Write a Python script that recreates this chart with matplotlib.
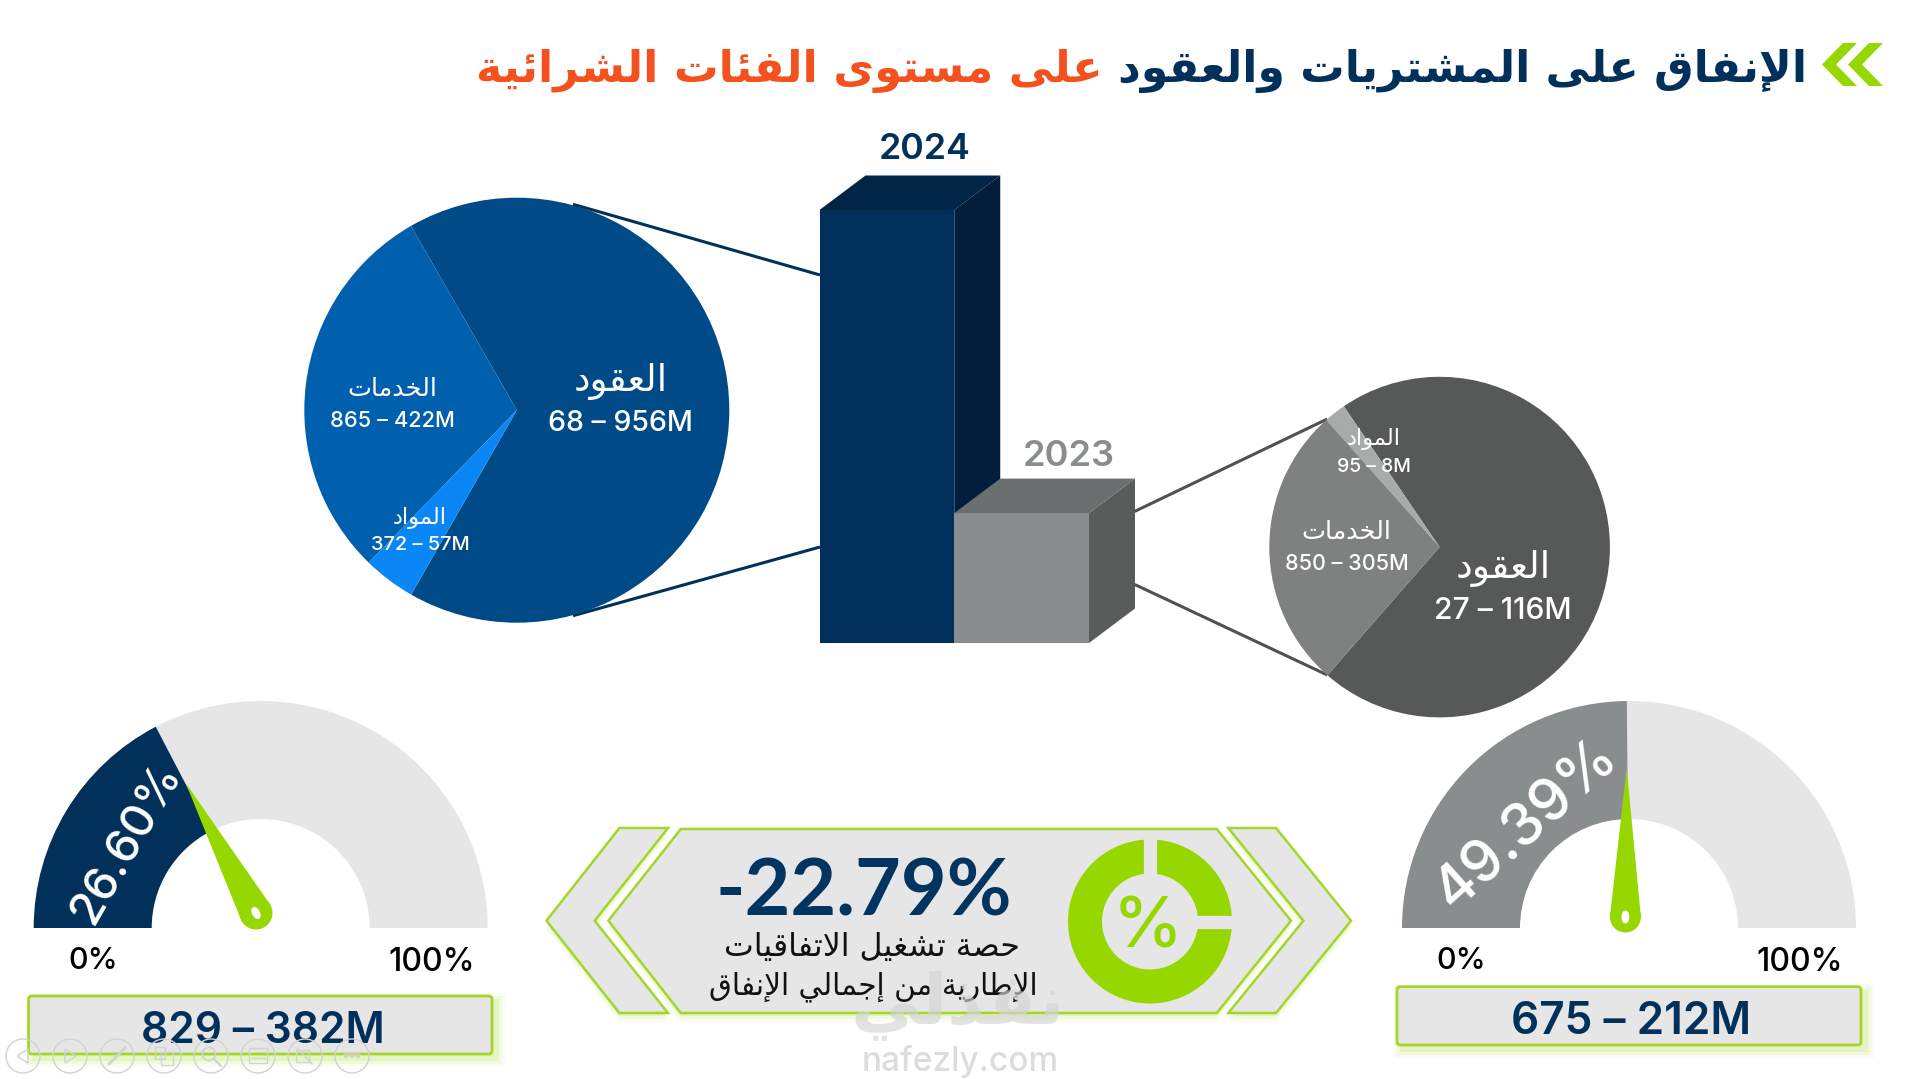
import math
import matplotlib
matplotlib.use("Agg")
import matplotlib.pyplot as plt
from matplotlib.patches import Polygon, Wedge, Circle, Ellipse, FancyBboxPatch, Rectangle

# ---------- data ----------
years = ["2024", "2023"]
year_totals = [1436.917, 431.07]

pie_2024_values = [956.68, 422.865, 57.372]
pie_2024_names = ["العقود", "الخدمات", "المواد"]
pie_2024_amounts = ["68 – 956M", "865 – 422M", "372 – 57M"]

pie_2023_values = [305.85, 8.95, 116.27]
pie_2023_names = ["العقود", "المواد", "الخدمات"]
pie_2023_amounts = ["27 – 116M", "95 – 8M", "850 – 305M"]

gauge_labels = ["26.60%", "49.39%"]
gauge_fill = [34.7, 49.7]
gauge_amounts = ["829 – 382M", "675 – 212M"]
gauge_ends = ["0%", "100%"]

title_navy = "الإنفاق على المشتريات والعقود"
title_orange = "على مستوى الفئات الشرائية"
kpi_value = "-22.79%"
kpi_line1 = "حصة تشغيل الاتفاقيات"
kpi_line2 = "الإطارية من إجمالي الإنفاق"
icon_shares = [25, 75]
watermark_ar = "نفذلي"
watermark_en = "nafezly.com"

# ---------- colours ----------
NAVY = "#01305A"
LIME = "#97D700"
EDGE = "#A4D62A"
PANEL = "#E6E6E7"
ORANGE = "#F4511E"
LATIN = "Inter"
ARABIC = "DejaVu Sans"

# ---------- minimal Arabic shaping (matplotlib has no shaper) ----------
_four = {"ئ": 0xFE89, "ب": 0xFE8F, "ت": 0xFE95, "ث": 0xFE99, "ج": 0xFE9D, "ح": 0xFEA1, "خ": 0xFEA5,
         "س": 0xFEB1, "ش": 0xFEB5, "ص": 0xFEB9, "ض": 0xFEBD, "ط": 0xFEC1, "ظ": 0xFEC5, "ع": 0xFEC9,
         "غ": 0xFECD, "ف": 0xFED1, "ق": 0xFED5, "ك": 0xFED9, "ل": 0xFEDD, "م": 0xFEE1, "ن": 0xFEE5,
         "ه": 0xFEE9, "ي": 0xFEF1}
_two = {"آ": 0xFE81, "أ": 0xFE83, "ؤ": 0xFE85, "إ": 0xFE87, "ا": 0xFE8D, "ة": 0xFE93, "د": 0xFEA9,
        "ذ": 0xFEAB, "ر": 0xFEAD, "ز": 0xFEAF, "و": 0xFEED, "ى": 0xFEEF}
_lam = {"ا": 0xFEFB, "أ": 0xFEF7, "إ": 0xFEF9, "آ": 0xFEF5}


def shape(s):
    out = []
    i = 0
    prev_joins = False
    while i < len(s):
        c = s[i]
        if c == "ل" and i + 1 < len(s) and s[i + 1] in _lam:
            out.append(chr(_lam[s[i + 1]] + (1 if prev_joins else 0)))
            prev_joins = False
            i += 2
            continue
        nxt = s[i + 1] if i + 1 < len(s) else " "
        nxt_letter = nxt in _four or nxt in _two
        if c in _four:
            b = _four[c]
            if prev_joins and nxt_letter:
                g = b + 3
            elif prev_joins:
                g = b + 1
            elif nxt_letter:
                g = b + 2
            else:
                g = b
            out.append(chr(g))
            prev_joins = nxt_letter
        elif c in _two:
            out.append(chr(_two[c] + (1 if prev_joins else 0)))
            prev_joins = False
        else:
            out.append(c)
            prev_joins = False
        i += 1
    return "".join(reversed(out))


# ---------- canvas ----------
W, H = 1919, 1079
fig = plt.figure(figsize=(W / 100, H / 100), dpi=100, facecolor="white")
ax = fig.add_axes([0, 0, 1, 1], zorder=0)
ax.set_xlim(0, W)
ax.set_ylim(H, 0)
ax.axis("off")
top = fig.add_axes([0, 0, 1, 1], zorder=10)
top.set_xlim(0, W)
top.set_ylim(H, 0)
top.axis("off")
top.patch.set_alpha(0)
renderer = fig.canvas.get_renderer()


def fit(a, x, y, s, width, family, color, weight="normal", ha="center", rotation=0, alpha=None, zorder=5):
    t = a.text(x, y, s, family=family, color=color, weight=weight, fontsize=40, ha=ha, va="center",
               alpha=alpha, zorder=zorder, rotation_mode="anchor")
    w = t.get_window_extent(renderer).width
    fs = 40 * width / w
    t.set_fontsize(fs)
    t.set_rotation(rotation)
    # the text box includes the descender: move digits down to centre them optically
    k = 0.11 if family != ARABIC else 0.04
    off = k * fs * 100 / 72
    th = math.radians(rotation)
    t.set_position((x + off * math.sin(th), y + off * math.cos(th)))
    return t


def px_axes(cx, cy, rx, ry, z=1):
    return fig.add_axes([(cx - rx) / W, 1 - (cy + ry) / H, 2 * rx / W, 2 * ry / H], zorder=z)


# ---------- title ----------
fit(top, 1807, 69, shape(title_navy), 688, ARABIC, NAVY, "bold", ha="right")
fit(top, 1102.5, 69, shape(title_orange), 625, ARABIC, ORANGE, "bold", ha="right")
for shift in (0, 26):
    ax.add_patch(Polygon([(1822 + shift, 64.5), (1843 + shift, 43), (1857 + shift, 43), (1836 + shift, 64.5),
                          (1857 + shift, 86), (1843 + shift, 86)], closed=True, fc=LIME, lw=0))

# ---------- connector lines ----------
for (x0, y0, x1, y1, c) in [(573, 204.3, 820, 275, NAVY), (573, 615.7, 820, 547, NAVY),
                            (1134.7, 511.4, 1327.3, 419, "#505150"), (1134.7, 584.5, 1327.3, 675, "#505150")]:
    ax.plot([x0, x1], [y0, y1], color=c, lw=2.2, solid_capstyle="butt", zorder=1)

# ---------- pies ----------
pa = px_axes(516.8, 410.2, 212.5, 212.5, 2)
pa.pie(pie_2024_values, colors=["#004A87", "#0060AE", "#0A87F5"], startangle=-119.8, radius=1,
       wedgeprops=dict(lw=0))
pa.set_xlim(-1, 1)
pa.set_ylim(-1, 1)

pb = px_axes(1439.6, 547.1, 170.3, 170.3, 2)
pb.pie(pie_2023_values, colors=["#575958", "#A9AAAA", "#7F8180"], startangle=-131.2, radius=1,
       wedgeprops=dict(lw=0))
pb.set_xlim(-1, 1)
pb.set_ylim(-1, 1)

for (n, a, xc, yn, ya, wn, wa) in [
    (pie_2024_names[0], pie_2024_amounts[0], 620.5, 380, 420, 94, 145),
    (pie_2024_names[1], pie_2024_amounts[1], 392.7, 388, 419, 90, 125),
    (pie_2024_names[2], pie_2024_amounts[2], 420, 516.7, 542.7, 54, 99),
    (pie_2023_names[0], pie_2023_amounts[0], 1503.3, 567.3, 607.3, 95, 138),
    (pie_2023_names[1], pie_2023_amounts[1], 1374, 438.3, 465, 54, 74),
    (pie_2023_names[2], pie_2023_amounts[2], 1346.7, 530.7, 561.7, 90, 124),
]:
    fit(top, xc, yn, shape(n), wn, ARABIC, "white")
    fit(top, xc, ya, a, wa, LATIN, "white", "medium")

# ---------- 3D bars ----------
bar_ax = fig.add_axes([819.5 / W, 1 - 643 / H, (1089 - 819.5) / W, (643 - 210) / H], zorder=3)
bar_ax.set_xlim(-0.5, 1.5)
bar_ax.set_ylim(0, year_totals[0])
bar_ax.axis("off")
bar_front = ["#012F5B", "#8A8D8E"]
bar_side = ["#011F3D", "#5A5C5B"]
bar_top = ["#012546", "#6C6F70"]
DX, DY = 46, 34.5
for i, v in enumerate(year_totals):
    (x0, y0) = ax.transData.inverted().transform(bar_ax.transData.transform((i - 0.5, v)))
    (x1, y1) = ax.transData.inverted().transform(bar_ax.transData.transform((i + 0.5, 0)))
    bar_ax.add_patch(Polygon([(x1, y0), (x1 + DX, y0 - DY), (x1 + DX, y1 - DY), (x1, y1)], closed=True,
                             fc=bar_side[i], lw=0, transform=ax.transData, clip_on=False, zorder=2 + 3 * i))
    bar_ax.add_patch(Polygon([(x0, y0), (x0 + DX, y0 - DY), (x1 + DX, y0 - DY), (x1, y0)], closed=True,
                             fc=bar_top[i], lw=0, transform=ax.transData, clip_on=False, zorder=3 + 3 * i))
    bar_ax.bar(i, v, width=1, color=bar_front[i], lw=0, zorder=4 + 3 * i, clip_on=False)

fit(top, 925, 146, years[0], 92, LATIN, NAVY, "semibold")
fit(top, 1069, 453, years[1], 92, LATIN, "#8A8D8E", "semibold")


# ---------- gauges ----------
def needle(cx, cy, tip, bulb, r):
    dx, dy = tip[0] - bulb[0], tip[1] - bulb[1]
    L = math.hypot(dx, dy)
    nx, ny = -dy / L, dx / L
    top.add_patch(Polygon([tip, (bulb[0] + nx * r, bulb[1] + ny * r), (bulb[0] - nx * r, bulb[1] - ny * r)],
                          closed=True, fc=LIME, lw=0, zorder=3))
    top.add_patch(Circle(bulb, r, fc=LIME, lw=0, zorder=3))
    ang = math.degrees(math.atan2(dy, dx))
    top.add_patch(Ellipse(bulb, 13, 8, angle=ang, fc="white", lw=0, zorder=4))


gauges = [
    dict(cx=260.7, color=NAVY, tip=(185.7, 783), bulb=(256, 913), r=16.5, text=(122, 840), tw=178, rot=60,
         ends=[(93, 958, 50), (432, 959, 87)]),
    dict(cx=1629, color="#8A8D8E", tip=(1626.7, 768), bulb=(1625.4, 917), r=15.5, text=(1523, 820), tw=226, rot=42,
         ends=[(1461, 958, 50), (1800, 959, 87)]),
]
R_OUT, R_IN, CY = 227, 109, 928
for i, g in enumerate(gauges):
    end = 180 + 180 * gauge_fill[i] / 100
    ax.add_patch(Wedge((g["cx"], CY), R_OUT, end, 360, width=R_OUT - R_IN, fc=PANEL, lw=0))
    ax.add_patch(Wedge((g["cx"], CY), R_OUT, 180, end, width=R_OUT - R_IN, fc=g["color"], lw=0))
    needle(g["cx"], CY, g["tip"], g["bulb"], g["r"])
    fit(top, g["text"][0], g["text"][1], gauge_labels[i], g["tw"], LATIN, "white", "medium", rotation=g["rot"])
    for lab, (ex, ey, ew) in zip(gauge_ends, g["ends"]):
        fit(top, ex, ey, lab, ew, LATIN, "black", "medium")

for i, (x0, y0, x1, y1, tx, ty, tw) in enumerate([(28.6, 996, 492, 1054, 263, 1026.7, 244),
                                                  (1397, 986.7, 1861, 1045, 1631, 1017, 240)]):
    for grow, al in ((8, .05), (5, .08), (2, .12)):
        ax.add_patch(Rectangle((x0 + 5 - grow, y0 + 5 - grow), x1 - x0 + 2 * grow, y1 - y0 + 2 * grow,
                               fc=LIME, alpha=al, lw=0, zorder=1))
    ax.add_patch(FancyBboxPatch((x0, y0), x1 - x0, y1 - y0, boxstyle="round,pad=0,rounding_size=3",
                                fc=PANEL, ec=EDGE, lw=2, zorder=2))
    fit(top, tx, ty, gauge_amounts[i], tw, LATIN, NAVY, "semibold")

# ---------- centre KPI panel ----------
T, B, M = 829, 1013, 920.7
shapes = [
    [(608.4, M), (680.8, T), (1216.8, T), (1291, M), (1216.8, B), (680.8, B)],
    [(546.5, M), (619.4, T - 1), (668, T - 1), (594.7, M), (668, B), (619.4, B)],
    [(1351, M), (1276, T - 1), (1228.3, T - 1), (1303.4, M), (1228.3, B), (1276, B)],
]
for pts in shapes:
    for off, al in ((9, .05), (6, .08), (3, .12)):
        ax.add_patch(Polygon([(x, y + off) for x, y in pts], closed=True, fc=LIME, alpha=al, lw=0, zorder=1))
    ax.add_patch(Polygon(pts, closed=True, fc=PANEL, ec=EDGE, lw=1.8, zorder=2))

ICX, ICY, IRO, IRI = 1150, 921.5, 82, 48
quarter = 360 * icon_shares[0] / sum(icon_shares)
ax.add_patch(Wedge((ICX, ICY), IRO, 270, 270 + quarter, width=IRO - IRI, fc=LIME, lw=0, zorder=3))
ax.add_patch(Wedge((ICX, ICY), IRO, 270 + quarter, 270, width=IRO - IRI, fc=LIME, lw=0, zorder=3))
ax.plot([ICX, ICX], [ICY - IRO - 2, ICY - IRI + 2], color=PANEL, lw=9.5, solid_capstyle="butt", zorder=4)
ax.plot([ICX + IRI - 2, ICX + IRO + 2], [ICY, ICY], color=PANEL, lw=9.5, solid_capstyle="butt", zorder=4)
fit(top, ICX - 2, ICY, "%", 70, LATIN, LIME, "medium")

fit(top, 864, 885, kpi_value, 296, "Lato", "#013460", "bold")
fit(top, 872, 946, shape(kpi_line1), 295, ARABIC, "#111111")
fit(top, 873, 986, shape(kpi_line2), 329, ARABIC, "#111111")

# ---------- watermark ----------
fit(top, 958, 1003, shape(watermark_ar), 214, ARABIC, "#D4D4D4", "bold", alpha=0.65, zorder=8)
fit(top, 960.6, 1058, watermark_en, 197, LATIN, "#D9D9D9", "medium", alpha=0.9, zorder=8)

# ---------- slideshow toolbar ----------
IC = "#D2D2D2"
centres = [23, 70, 117, 164, 211, 258, 305, 352]
TY = 1056
for c in centres:
    top.add_patch(Circle((c, TY), 17, fc="none", ec=IC, lw=1, zorder=9))
top.add_patch(Polygon([(17, TY), (28, TY - 7), (28, TY + 7)], closed=True, fc="none", ec=IC, lw=1, zorder=9))
top.add_patch(Polygon([(76, TY), (65, TY - 7), (65, TY + 7)], closed=True, fc="none", ec=IC, lw=1, zorder=9))
top.plot([109, 125], [TY + 8, TY - 8], color=IC, lw=2, zorder=9)
top.add_patch(Rectangle((155, TY - 9), 10, 12, fc="none", ec=IC, lw=1, zorder=9))
top.add_patch(Rectangle((161, TY - 4), 12, 13, fc="none", ec=IC, lw=1, zorder=9))
top.add_patch(Circle((209, TY - 2), 6.5, fc="none", ec=IC, lw=1.2, zorder=9))
top.plot([214, 221], [TY + 3, TY + 10], color=IC, lw=1.5, zorder=9)
top.add_patch(Rectangle((249, TY - 8), 18, 15, fc="none", ec=IC, lw=1, zorder=9))
top.plot([252, 264], [TY + 2, TY + 2], color=IC, lw=1, zorder=9)
top.add_patch(Rectangle((296, TY - 6), 13, 12, fc="none", ec=IC, lw=1, zorder=9))
top.plot([297, 312], [TY - 8, TY + 8], color=IC, lw=1, zorder=9)
for dx in (-6, 0, 6):
    top.add_patch(Circle((352 + dx, TY - 1), 2, fc="none", ec=IC, lw=1, zorder=9))

fig.savefig("out.png", dpi=100, facecolor="white")
